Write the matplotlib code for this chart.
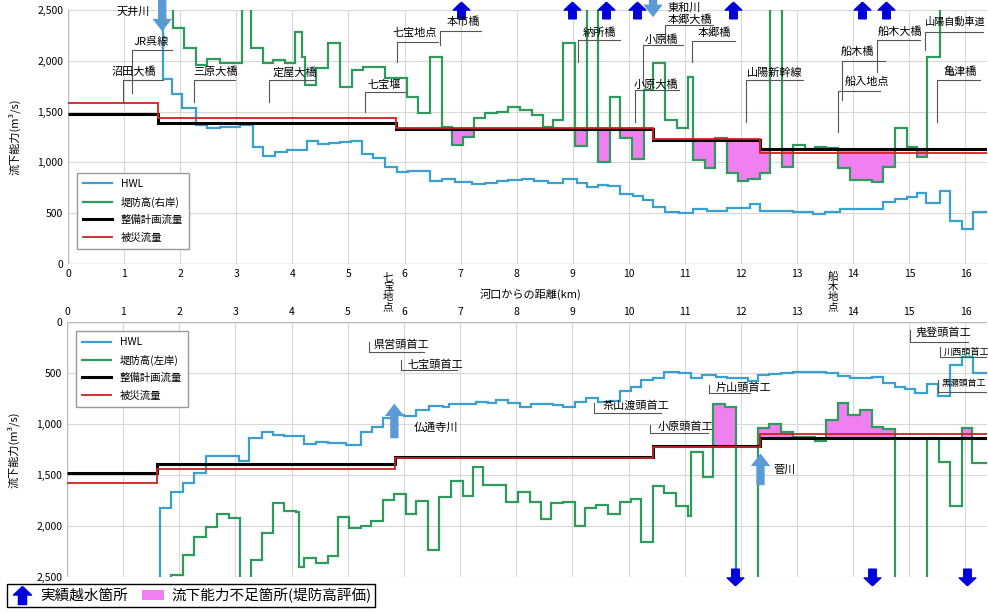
import numpy as np
import matplotlib.pyplot as plt
from matplotlib.lines import Line2D
from matplotlib.patches import Patch

plt.rcParams['font.family'] = ['Noto Sans CJK JP', 'DejaVu Sans']

# ---- data (km from river mouth, flow capacity m3/s) ----
x_max = 16.38

plan_km = [0, 1.6, 5.85, 10.43, 12.34]
plan_q = [1480, 1390, 1328, 1220, 1135]      # 整備計画流量
flood_km = [0, 1.6, 5.85, 10.43, 12.34]
flood_q = [1580, 1440, 1336, 1226, 1095]     # 被災流量

# right bank (top panel)
hwl_r_km = [0, 1.69, 1.85, 2.04, 2.29, 2.48, 2.71, 3.07, 3.30, 3.48, 3.69, 3.90, 4.26, 4.46,
            4.66, 4.85, 5.05, 5.24, 5.44, 5.65, 5.86, 6.06, 6.45, 6.66, 6.90, 7.20, 7.43, 7.65,
            7.84, 8.10, 8.30, 8.55, 8.82, 9.07, 9.25, 9.45, 9.63, 9.84, 10.07, 10.25, 10.43,
            10.64, 10.90, 11.14, 11.40, 11.75, 12.16, 12.33, 12.93, 13.28, 13.50, 13.76, 14.53,
            14.74, 14.95, 15.13, 15.30, 15.54, 15.72, 15.93, 16.13]
hwl_r = [3000, 1820, 1676, 1532, 1368, 1338, 1350, 1368, 1151, 1066, 1100, 1120, 1210, 1180,
         1195, 1205, 1215, 1082, 1043, 955, 905, 915, 817, 836, 807, 787, 797, 817,
         826, 836, 817, 797, 836, 797, 758, 777, 768, 689, 669, 630, 561,
         512, 502, 541, 522, 551, 590, 522, 512, 492, 510, 541, 610,
         640, 659, 698, 600, 718, 423, 344, 512]

levee_r_km = [0, 1.87, 2.06, 2.29, 2.47, 2.71, 3.10, 3.27, 3.48, 3.66, 3.87, 4.05, 4.17, 4.22,
              4.43, 4.64, 4.85, 5.06, 5.26, 5.65, 6.04, 6.24, 6.45, 6.66, 6.84, 7.05, 7.23,
              7.43, 7.64, 7.85, 8.06, 8.27, 8.46, 8.65, 8.83, 9.04, 9.25, 9.45, 9.66, 9.84,
              10.05, 10.26, 10.43, 10.64, 10.85, 11.06, 11.15, 11.35, 11.53, 11.74, 11.95,
              12.13, 12.34, 12.51, 12.72, 12.93, 13.14, 13.32, 13.52, 13.73, 13.94, 14.33,
              14.53, 14.74, 14.95, 15.13, 15.31, 15.54]
levee_r = [3000, 2321, 2122, 1958, 2014, 1975, 3000, 2122, 1981, 2007, 1975, 2280, 2034, 1761,
           1926, 2171, 1739, 1909, 1942, 1827, 1646, 1483, 2034, 1351, 1171, 1253, 1440,
           1483, 1499, 1548, 1515, 1466, 1345, 1417, 2171, 1161, 3000, 1007, 1646, 1240,
           1033, 1712, 1975, 1417, 1335, 1843, 1023, 941, 1240, 892, 820,
           835, 892, 3000, 957, 1171, 1132, 1148, 1140, 941, 827, 810,
           957, 1335, 1154, 1056, 2040, 3000]

# left bank (bottom panel)
hwl_l_km = [0, 1.66, 1.85, 2.06, 2.26, 2.47, 3.07, 3.24, 3.48, 3.66, 3.87, 4.22, 4.43, 4.64,
            4.97, 5.24, 5.44, 5.62, 5.80, 6.01, 6.21, 6.45, 6.69, 6.81, 7.28, 7.50, 7.64,
            7.85, 8.06, 8.27, 8.47, 8.65, 8.83, 9.04, 9.25, 9.45, 9.66, 9.84, 10.05, 10.23,
            10.43, 10.64, 10.90, 11.11, 11.30, 11.56, 11.75, 11.95, 12.13, 12.30, 12.51, 12.72,
            12.93, 13.17, 13.52, 13.73, 13.94, 14.33, 14.53, 14.74, 14.92, 15.10, 15.31, 15.51,
            15.72, 15.93, 16.14]
hwl_l = [3000, 1826, 1663, 1581, 1483, 1310, 1360, 1140, 1075, 1107, 1117, 1199, 1173, 1185,
         1205, 1075, 1033, 944, 911, 921, 862, 823, 836, 804, 781, 790, 764,
         797, 830, 807, 800, 813, 836, 781, 748, 781, 770, 676, 640, 568,
         552, 493, 503, 552, 519, 535, 552, 545, 575, 519, 510, 500,
         495, 487, 500, 529, 552, 536, 601, 640, 660, 693, 608, 725,
         421, 346, 497]

levee_l_km = [0, 1.85, 2.06, 2.26, 2.47, 2.68, 2.89, 3.08, 3.27, 3.48, 3.67, 3.87, 4.08, 4.14,
              4.22, 4.43, 4.64, 4.83, 5.03, 5.24, 5.42, 5.62, 5.83, 6.04, 6.22, 6.42, 6.63,
              6.84, 7.05, 7.23, 7.40, 7.82, 8.03, 8.24, 8.44, 8.62, 8.83, 9.04, 9.23, 9.42,
              9.63, 9.84, 10.05, 10.23, 10.43, 10.64, 10.85, 11.06, 11.12, 11.33, 11.50, 11.71,
              11.92, 12.31, 12.51, 12.72, 12.93, 13.32, 13.52, 13.73, 13.91, 14.12, 14.33, 14.53,
              14.74, 15.31, 15.52, 15.72, 15.93, 16.11]
levee_l = [3000, 2480, 2283, 2110, 2006, 1885, 1924, 3000, 2332, 2071, 1777, 1849, 1859, 2398,
           2310, 2359, 2290, 1908, 2016, 1999, 1947, 1744, 1689, 1885, 1754, 2234, 1712,
           1558, 1702, 1424, 1597, 1761, 1663, 1761, 1934, 1777, 1761, 1999, 1826, 1793,
           1882, 1761, 1738, 2153, 1607, 1679, 1803, 1901, 1271, 1516, 807, 836,
           3000, 1042, 1003, 1075, 1125, 1166, 960, 791, 911, 862, 1026, 1052,
           3000, 1134, 1369, 1803, 1042, 1385]

# overflow record points (実績越水箇所)
overflow_top_km = [7.0, 8.98, 9.59, 10.14, 11.85, 14.15, 14.58]
overflow_bottom_km = [11.9, 14.33, 16.02]

# labels: (text, text x, text y, bracket x0, x1, line y, drop-to y)
labels_top = [
    ('JR呉線', 1.48, 2184, 1.14, 1.85, 2106, 1683),
    ('沼田大橋', 1.18, 1889, 0.98, 1.69, 1811, 1597),
    ('三原大橋', 2.63, 1889, 2.24, 2.98, 1811, 1597),
    ('定屋大橋', 4.05, 1889, 3.59, 4.40, 1811, 1597),
    ('七宝堰', 5.63, 1761, 5.29, 6.01, 1696, 1499),
    ('七宝地点', 6.19, 2273, 5.86, 6.60, 2188, 1991),
    ('本市橋', 7.04, 2381, 6.63, 7.37, 2293, 2155),
    ('納所橋', 9.48, 2273, 9.09, 9.84, 2204, 1988),
    ('本郷大橋', 11.09, 2401, 10.64, 11.50, 2352, 2175),
    ('小原橋', 10.57, 2204, 10.25, 10.96, 2155, 1761),
    ('本郷橋', 11.53, 2273, 11.12, 11.89, 2194, 1988),
    ('小原大橋', 10.48, 1761, 10.11, 10.90, 1712, 1397),
    ('山陽新幹線', 12.60, 1879, 12.09, 13.10, 1811, 1397),
    ('船木橋', 14.08, 2086, 13.80, 14.56, 1998, 1614),
    ('船木大橋', 14.83, 2283, 14.42, 15.19, 2204, 1889),
    ('船入地点', 14.24, 1791, 13.73, 14.47, 1702, 1299),
    ('亀津橋', 15.90, 1889, 15.49, 16.26, 1811, 1397),
]
# bottom: (text, text x, text y, bracket x, line y top, line y bottom, line x end, size)
labels_bottom = [
    ('県営頭首工', 5.45, 225, 5.37, 196, 294, 6.35, 8),
    ('七宝頭首工', 6.06, 421, 5.94, 372, 470, 6.95, 8),
    ('茶山渡頭首工', 9.54, 823, 9.38, 794, 892, 10.57, 8),
    ('小原頭首工', 10.52, 1029, 10.39, 1009, 1088, 11.41, 8),
    ('片山頭首工', 11.55, 647, 11.43, 617, 696, 12.17, 8),
    ('鬼登頭首工', 15.12, 108, 15.01, 78, 196, 16.04, 8),
    ('川西頭首工', 15.62, 294, 15.55, 245, 343, 16.38, 6.6),
    ('黒瀬頭首工', 15.58, 608, 15.51, 568, 686, 16.38, 6.4),
]

c_hwl = '#3aa0d0'
c_levee = '#2e9a5c'
c_pink = '#f080f0'
c_arrow = '#0000dd'
c_big = '#5b9bd5'
up_arrow = [(0, 1), (-1, 0.05), (-0.45, 0.05), (-0.45, -1), (0.45, -1), (0.45, 0.05), (1, 0.05), (0, 1)]
down_arrow = [(vx, -vy) for vx, vy in up_arrow]


def step_val(edges, vals, x):
    i = np.searchsorted(edges, x, side='right') - 1
    return vals[i]


def draw_panel(ax, hwl_km, hwl, lev_km, lev, bank):
    # shortage fill between levee and plan flow
    xs = np.union1d(np.union1d(lev_km, plan_km), [x_max])
    for a, b in zip(xs[:-1], xs[1:]):
        g = step_val(lev_km, lev, a)
        p = step_val(plan_km, plan_q, a)
        if g < p:
            ax.fill_between([a, b], [g, g], [p, p], color=c_pink, lw=0, zorder=2)
    ax.stairs(hwl, hwl_km + [x_max], baseline=None, color=c_hwl, lw=1.6, zorder=3, label='HWL')
    ax.stairs(lev, lev_km + [x_max], baseline=None, color=c_levee, lw=1.6, zorder=3,
              label='堤防高(' + bank + ')')
    ax.stairs(plan_q, plan_km + [x_max], baseline=None, color='black', lw=2.2, zorder=4,
              label='整備計画流量')
    ax.stairs(flood_q, flood_km + [x_max], baseline=None, color='#d42020', lw=1.3, zorder=5,
              label='被災流量')
    ax.set_xlim(0, x_max)
    ax.set_xticks(range(0, 17))
    ax.set_yticks([0, 500, 1000, 1500, 2000, 2500])
    ax.set_yticklabels(['0', '500', '1,000', '1,500', '2,000', '2,500'])
    ax.grid(color='#d8d8d8', lw=0.8)
    ax.set_axisbelow(True)
    ax.tick_params(length=0, labelsize=7.5)
    for s in ax.spines.values():
        s.set_visible(False)
    ax.set_ylabel('流下能力(m³/s)', fontsize=8)
    ax.yaxis.set_label_coords(-0.052, 0.5)


fig = plt.figure(figsize=(9.88, 6.14), dpi=100)
ax1 = fig.add_axes([0.0688, 0.570, 0.930, 0.4137])
ax2 = fig.add_axes([0.0678, 0.0603, 0.931, 0.4153])

draw_panel(ax1, hwl_r_km, hwl_r, levee_r_km, levee_r, '右岸')
ax1.set_ylim(0, 2500)
ax1.axhline(0, color='#bbbbbb', lw=1)
ax1.axvline(0, color='#bbbbbb', lw=1)
ax1.legend(loc='lower left', bbox_to_anchor=(0.004, 0.04), fontsize=7.5, handlelength=2.8,
           fancybox=False, edgecolor='#999999', framealpha=1, borderpad=0.6, labelspacing=0.7)

draw_panel(ax2, hwl_l_km, hwl_l, levee_l_km, levee_l, '左岸')
ax2.set_ylim(2500, 0)
ax2.xaxis.tick_top()
ax2.axhline(0, color='#bbbbbb', lw=1)
ax2.axvline(0, color='#bbbbbb', lw=1)
ax2.legend(loc='upper left', bbox_to_anchor=(0.004, 0.985), fontsize=7.5, handlelength=2.8,
           fancybox=False, edgecolor='#999999', framealpha=1, borderpad=0.6, labelspacing=0.7)

# overflow arrows
ax1.plot(overflow_top_km, [2500] * len(overflow_top_km), ls='none', marker=up_arrow,
         ms=12, color=c_arrow, clip_on=False, zorder=6)
ax2.plot(overflow_bottom_km, [2500] * len(overflow_bottom_km), ls='none', marker=down_arrow,
         ms=12, color=c_arrow, clip_on=False, zorder=6)

# label brackets
for txt, tx, ty, x0, x1, ly, dy in labels_top:
    ax1.text(tx, ty, txt, ha='center', va='center', fontsize=8, zorder=7)
    ax1.plot([x1, x0, x0], [ly, ly, dy], color='#555555', lw=0.8, zorder=6)
ax1.text(15.27, 2381, '山陽自動車道', ha='left', va='center', fontsize=7.3, zorder=7)
ax1.plot([16.31, 15.27, 15.27], [2283, 2283, 2106], color='#555555', lw=0.8, zorder=6)

for txt, tx, ty, bx, y0, y1, xe, fs in labels_bottom:
    ax2.text(tx, ty, txt, ha='left', va='center', fontsize=fs, zorder=7)
    ax2.plot([bx, bx, xe], [y0, y1, y1], color='#555555', lw=0.8, zorder=6)

# tributary arrows
big = dict(width=6, headwidth=14, headlength=9, color=c_big, lw=0)
ax1.annotate('', xy=(1.68, 2290), xytext=(1.68, 2640), arrowprops=big, annotation_clip=False, zorder=8)
ax1.text(1.46, 2480, '天井川', ha='right', va='center', fontsize=8)
ax1.annotate('', xy=(10.43, 2430), xytext=(10.43, 2640), arrowprops=big, annotation_clip=False, zorder=8)
ax1.text(10.68, 2525, '東和川', ha='left', va='center', fontsize=8, clip_on=False)
ax2.annotate('', xy=(5.83, 800), xytext=(5.83, 1140), arrowprops=big, annotation_clip=False, zorder=8)
ax2.text(6.17, 1039, '仏通寺川', ha='left', va='center', fontsize=8)
ax2.annotate('', xy=(12.35, 1290), xytext=(12.35, 1600), arrowprops=big, annotation_clip=False, zorder=8)
ax2.text(12.58, 1450, '菅川', ha='left', va='center', fontsize=8)

# axis texts between panels
fig.text(530 / 988, 1 - 294 / 614, '河口からの距離(km)', ha='center', va='center', fontsize=8)
fig.text(388 / 988, 1 - 292 / 614, '七\n宝\n地\n点', ha='center', va='center', fontsize=7.5, linespacing=1.0)
fig.text(833 / 988, 1 - 292 / 614, '船\n木\n地\n点', ha='center', va='center', fontsize=7.5, linespacing=1.0)

# bottom legend
handles = [Line2D([], [], ls='none', marker=up_arrow, ms=13, color=c_arrow),
           Patch(facecolor=c_pink, edgecolor='none')]
fig.legend(handles, ['実績越水箇所', '流下能力不足箇所(堤防高評価)'], loc='lower left',
           bbox_to_anchor=(0.0, 0.0), ncol=2, fontsize=10.5, fancybox=False, edgecolor='black',
           framealpha=1, borderpad=0.25, handlelength=1.5, columnspacing=1.0, handletextpad=0.5)

fig.savefig('out.png', dpi=100)
